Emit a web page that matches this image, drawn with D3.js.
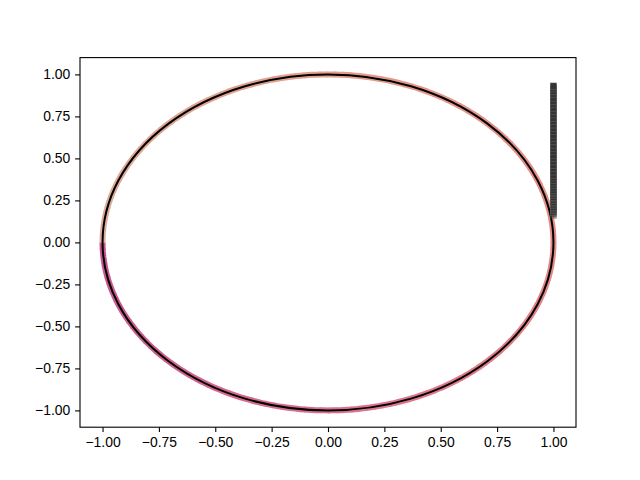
<!DOCTYPE html>
<html>
<head>
<meta charset="utf-8">
<script src="https://cdn.jsdelivr.net/npm/d3@7"></script>
<style>
  body { margin: 0; background: #fff; }
</style>
</head>
<body>
<div id="chart"></div>
<script>
// circle of radius 1 around the origin, coloured by angle (degrees)
const circleCenter = [0, 0];
const circleRadius = 1;
const colorStops = [-180, -90, 0, 90, 180];
const colorValues = ["#c5538f", "#d9708f", "#e48a86", "#e29e8c", "#dcae9c"];

// stacked square markers at x = 1
const barX = 1;
const barY = [0.93, 0.915, 0.90, 0.88, 0.86, 0.84, 0.82, 0.80, 0.78, 0.76, 0.74,
  0.72, 0.70, 0.68, 0.66, 0.64, 0.62, 0.60, 0.58, 0.56, 0.54, 0.52, 0.50, 0.48, 0.46,
  0.44, 0.42, 0.40, 0.385, 0.37, 0.355, 0.34, 0.325, 0.31, 0.30, 0.29, 0.28, 0.27,
  0.26, 0.25, 0.24, 0.23, 0.22, 0.21, 0.20, 0.19, 0.18, 0.17, 0.16];

const xTicks = [-1, -0.75, -0.5, -0.25, 0, 0.25, 0.5, 0.75, 1];
const yTicks = [-1, -0.75, -0.5, -0.25, 0, 0.25, 0.5, 0.75, 1];

const width = 640, height = 480;
const margin = {left: 80, right: 64, top: 57.6, bottom: 52.8};

const x = d3.scaleLinear().domain([-1.1, 1.1]).range([margin.left, width - margin.right]);
const y = d3.scaleLinear().domain([-1.1, 1.1]).range([height - margin.bottom, margin.top]);

const svg = d3.select("#chart").append("svg")
    .attr("width", width)
    .attr("height", height)
    .style("font-family", "DejaVu Sans, sans-serif");

const color = d3.scaleLinear().domain(colorStops).range(colorValues);

// coloured ring drawn in short pieces so the colour follows the angle
const pieces = d3.range(-180, 180, 2);
const toPoint = a => {
  const r = a * Math.PI / 180;
  return [x(circleCenter[0] + circleRadius * Math.cos(r)), y(circleCenter[1] + circleRadius * Math.sin(r))];
};
const line = d3.line();

svg.append("g")
    .attr("fill", "none")
    .attr("stroke-width", 6)
  .selectAll("path")
  .data(pieces)
  .join("path")
    .attr("d", a => line([toPoint(a), toPoint(a + 1), toPoint(a + 2.2)]))
    .attr("stroke", a => color(a + 1));

svg.append("ellipse")
    .attr("cx", x(circleCenter[0]))
    .attr("cy", y(circleCenter[1]))
    .attr("rx", x(circleRadius) - x(0))
    .attr("ry", y(0) - y(circleRadius))
    .attr("fill", "none")
    .attr("stroke", "#000")
    .attr("stroke-width", 2);

// markers, bottom first so upper ones overlap
const sortedBar = barY.slice().sort((a, b) => a - b);
svg.append("g")
  .selectAll("rect")
  .data(sortedBar)
  .join("rect")
    .attr("x", x(barX) - 3.2)
    .attr("y", d => y(d) - 3.2)
    .attr("width", 6.4)
    .attr("height", 6.4)
    .attr("fill", "#333")
    .attr("stroke", "#666")
    .attr("stroke-width", 0.5)
    .attr("opacity", (d, i) => i < 4 ? 0.45 + i * 0.13 : 1);

// axes, matplotlib-like: 3.5pt ticks, 10pt labels
const fmt = d => d3.format(".2f")(d).replace("-", "\u2212");
svg.append("g")
    .attr("transform", `translate(0,${height - margin.bottom})`)
    .call(d3.axisBottom(x).tickValues(xTicks).tickFormat(fmt).tickSizeOuter(0).tickSize(4.9).tickPadding(4.9))
    .call(g => g.select(".domain").remove())
    .call(g => g.selectAll("line").attr("stroke-width", 1.1))
    .call(g => g.selectAll("text").attr("font-size", 13.9).attr("fill", "#000"));

svg.append("g")
    .attr("transform", `translate(${margin.left},0)`)
    .call(d3.axisLeft(y).tickValues(yTicks).tickFormat(fmt).tickSizeOuter(0).tickSize(4.9).tickPadding(4.9))
    .call(g => g.select(".domain").remove())
    .call(g => g.selectAll("line").attr("stroke-width", 1.1))
    .call(g => g.selectAll("text").attr("font-size", 13.9).attr("fill", "#000"));

svg.append("rect")
    .attr("x", margin.left)
    .attr("y", margin.top)
    .attr("width", width - margin.left - margin.right)
    .attr("height", height - margin.top - margin.bottom)
    .attr("fill", "none")
    .attr("stroke", "#000")
    .attr("stroke-width", 1.1);
</script>
</body>
</html>
